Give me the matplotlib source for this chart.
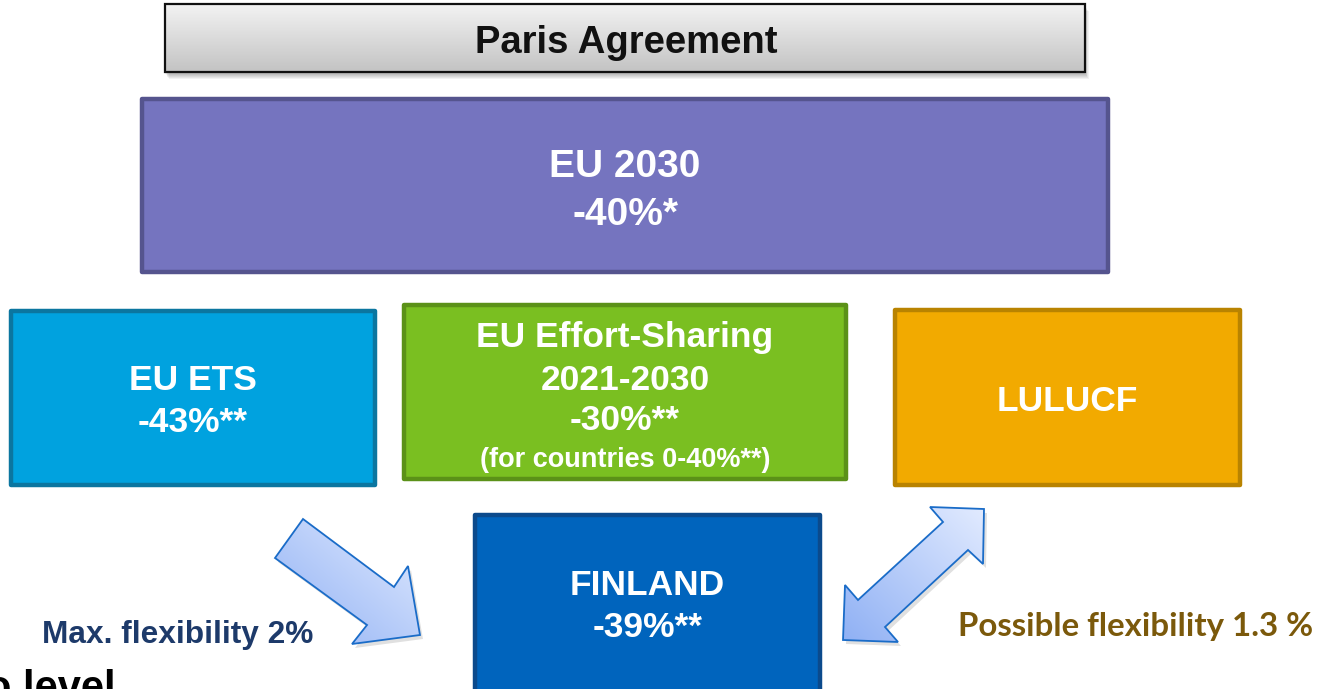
import numpy as np
import matplotlib
matplotlib.use("Agg")
import matplotlib.pyplot as plt
from matplotlib.patches import Rectangle, Polygon
from matplotlib.colors import to_rgb

plt.rcParams['font.family'] = ['Liberation Sans', 'DejaVu Sans']

# box texts and colours
box_lines = [
    ["EU 2030", "-40%*"],
    ["EU ETS", "-43%**"],
    ["EU Effort-Sharing", "2021-2030", "-30%**", "(for countries 0-40%**)"],
    ["LULUCF"],
    ["FINLAND", "-39%**"],
]
box_fill = ["#7574bf", "#00a2df", "#7abf21", "#f2aa00", "#0064bd"]
box_edge = ["#55548e", "#0b76a0", "#5b9118", "#b98300", "#0b4a8c"]

header_text = "Paris Agreement"
left_note = "Max. flexibility 2%"
right_note = "Possible flexibility 1.3 %"

# layout in pixels (x0, y0, x1, y1)
box_geom = [(142, 99, 1108, 272), (11, 311, 375, 485), (404, 305, 846, 479),
            (895, 310, 1240, 485), (475, 515, 820, 700)]
baselines = [[177, 225], [390, 432], [347, 390, 430, 467], [411], [595, 637]]
sizes = [[28, 28], [25.5, 25.5], [25.5, 25.5, 25.5, 19.5], [25.5], [25.5, 25.5]]

fig = plt.figure(figsize=(13.2, 6.89), dpi=100)
ax = fig.add_axes([0, 0, 1, 1])
ax.set_xlim(0, 1320)
ax.set_ylim(689, 0)
ax.axis('off')


def gradient_fill(patch, x0, y0, x1, y1, c_top, c_bot, diag=False):
    n = 200
    xs = np.linspace(0, 1, n)
    ys = np.linspace(0, 1, n)
    X, Y = np.meshgrid(xs, ys)
    if diag:
        t = (X + (1 - Y)) / 2
    else:
        t = 1 - Y
    ct = np.array(to_rgb(c_top))
    cb = np.array(to_rgb(c_bot))
    img = cb + t[..., None] * (ct - cb)
    im = ax.imshow(img, extent=[x0, x1, y1, y0], aspect='auto', zorder=patch.get_zorder() - 0.1)
    im.set_clip_path(patch)


# header box with shadow and gradient
for k in range(6):
    ax.add_patch(Rectangle((165 + k * 0.8, 6 + k * 0.9), 920, 68, facecolor='black',
                           alpha=0.05, edgecolor='none', zorder=1))
hdr = Rectangle((165, 4), 920, 68, facecolor='none', edgecolor='#111111', lw=1.6, zorder=3)
ax.add_patch(hdr)
gradient_fill(hdr, 165, 4, 1085, 72, '#f3f3f3', '#c3c3c3')
ax.text(626, 53, header_text, ha='center', va='baseline', fontsize=27.5,
        fontweight='bold', color='#111111', zorder=4)

# coloured boxes
for i, lines in enumerate(box_lines):
    x0, y0, x1, y1 = box_geom[i]
    ax.add_patch(Rectangle((x0, y0), x1 - x0, y1 - y0, facecolor=box_fill[i],
                           edgecolor=box_edge[i], lw=3.2, joinstyle='round', zorder=2))
    cx = (x0 + x1) / 2
    for j, line in enumerate(lines):
        ax.text(cx, baselines[i][j], line, ha='center', va='baseline',
                fontsize=sizes[i][j], fontweight='bold', color='white', zorder=4)

# arrows
arrow_left = [(303, 519), (394, 587), (408, 566), (420, 635), (352, 644), (367, 625), (275, 558)]
arrow_right = [(984, 509), (983, 564), (968, 550), (885, 627), (898, 642), (843, 640),
               (845, 585), (858, 600), (943, 522), (930, 507)]
for pts in (arrow_left, arrow_right):
    sh = Polygon([(x + 3, y + 4) for x, y in pts], closed=True, facecolor='black',
                 alpha=0.12, edgecolor='none', zorder=1)
    ax.add_patch(sh)
    poly = Polygon(pts, closed=True, facecolor='none', edgecolor='#1a6cc8', lw=1.3, zorder=3)
    ax.add_patch(poly)
    xs = [p[0] for p in pts]
    ys = [p[1] for p in pts]
    gradient_fill(poly, min(xs), min(ys), max(xs), max(ys), '#e2ebff', '#8fb0f4', diag=True)

ax.text(178, 643, left_note, ha='center', va='baseline', fontsize=22.8,
        fontweight='bold', color='#1d3a6a', zorder=4)
ax.text(1136, 636, right_note, ha='center', va='baseline', fontsize=23.8,
        fontweight='bold', color='#7b590b', family=['Lato', 'DejaVu Sans'], zorder=4)

# cut-off text at bottom left
ax.text(-14, 700, "o level", ha='left', va='baseline', fontsize=30,
        fontweight='bold', color='black', zorder=4)

ax.set_xlim(0, 1320)
ax.set_ylim(689, 0)
fig.savefig('out.png', dpi=100)
